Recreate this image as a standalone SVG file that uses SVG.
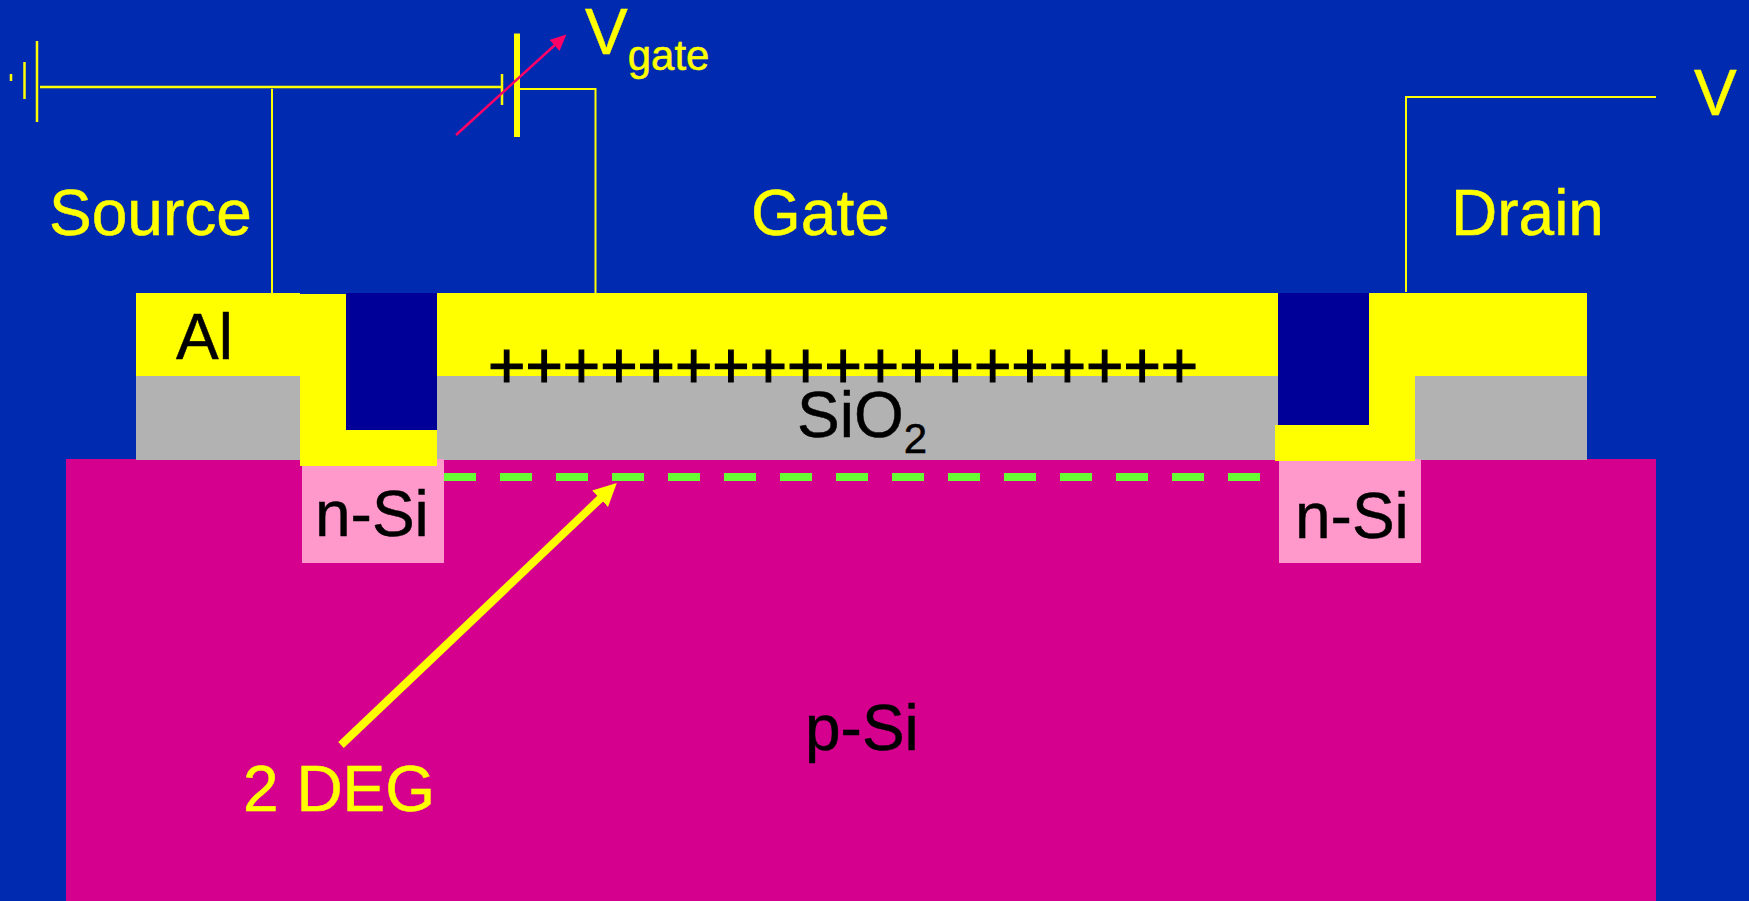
<svg xmlns="http://www.w3.org/2000/svg" width="1749" height="901" viewBox="0 0 1749 901">
<style>
text{font-family:"Liberation Sans",Arial,sans-serif;font-size:64px;stroke-width:.5px}
.y{fill:#ffff00;stroke:#ffff00}.k{fill:#000;stroke:#000}
.w{stroke:#ffff00;stroke-width:2;fill:none}
</style>
<defs><marker id="pa" markerUnits="userSpaceOnUse" markerWidth="20" markerHeight="20" refX="2" refY="7.500" orient="auto"><path d="M0 0L16 7.500L0 15z" fill="#ff0066"/></marker>
<marker id="ya" markerUnits="userSpaceOnUse" markerWidth="26" markerHeight="26" refX="4" refY="11.500" orient="auto"><path d="M0 0L23 11.500L0 23z" fill="#ffff00"/></marker></defs>
<rect width="1749" height="901" fill="#002bb0"/>
<g id="substrate"><rect x="66" y="459" width="1590" height="442" fill="#d6008f"/><text x="805" y="750" class="k">p-Si</text></g>
<g id="oxide"><rect x="136" y="376" width="1451" height="84" fill="#b2b2b2"/><text x="797" y="437" class="k">SiO<tspan font-size="42" dy="16">2</tspan></text></g>
<g id="source-nsi"><rect x="302" y="459" width="142" height="104" fill="#ff99cc"/><text x="315" y="536" class="k">n-Si</text></g>
<g id="drain-nsi"><rect x="1279" y="459" width="142" height="104" fill="#ff99cc"/><text x="1295" y="538" class="k">n-Si</text></g>
<g id="source-metal"><path d="M136 293H300V294H346V430H437V466H300V376H136z" fill="#ffff00"/><rect x="346" y="293" width="91" height="137" fill="#000099"/><text x="176" y="359" class="k">Al</text></g>
<g id="gate-metal"><rect x="437" y="293" width="841" height="83" fill="#ffff00"/><text x="488" y="388" class="k" style="stroke-width:1.200px">+++++++++++++++++++</text></g>
<g id="drain-metal"><path d="M1369 293H1587V376H1415V461H1275V425H1369z" fill="#ffff00"/><rect x="1278" y="293" width="91" height="132" fill="#000099"/></g>
<g id="connectors">
<path class="w" d="M40 87H502" style="stroke-width:2.500"/><path class="w" d="M272 89V293"/><path class="w" d="M520 89H595.500V293"/><path class="w" d="M1406 292V97H1656"/>
<path d="M444 477H1260" stroke="#66ff33" stroke-width="8" stroke-dasharray="32 24" fill="none"/>
<path d="M341 745L603 496" stroke="#ffff00" stroke-width="8" fill="none" marker-end="url(#ya)"/>
</g>
<g id="battery">
<path class="w" d="M11 74V81M24.500 62V99M37 41V122M502 74V105" style="stroke-width:2.500"/>
<path d="M517 33.500V137" stroke="#ffff00" stroke-width="6"/>
<path d="M456 135L556 44" stroke="#ff0066" stroke-width="2.500" fill="none" marker-end="url(#pa)"/>
</g>
<g id="labels">
<text x="585" y="54" class="y">V<tspan font-size="42" dy="16">gate</tspan></text>
<text x="1694" y="115" class="y">V</text>
<text x="49" y="234.500" class="y">Source</text>
<text x="751" y="234.500" class="y">Gate</text>
<text x="1451" y="234.500" class="y">Drain</text>
<text x="243" y="810.500" class="y">2 DEG</text>
</g>
</svg>
